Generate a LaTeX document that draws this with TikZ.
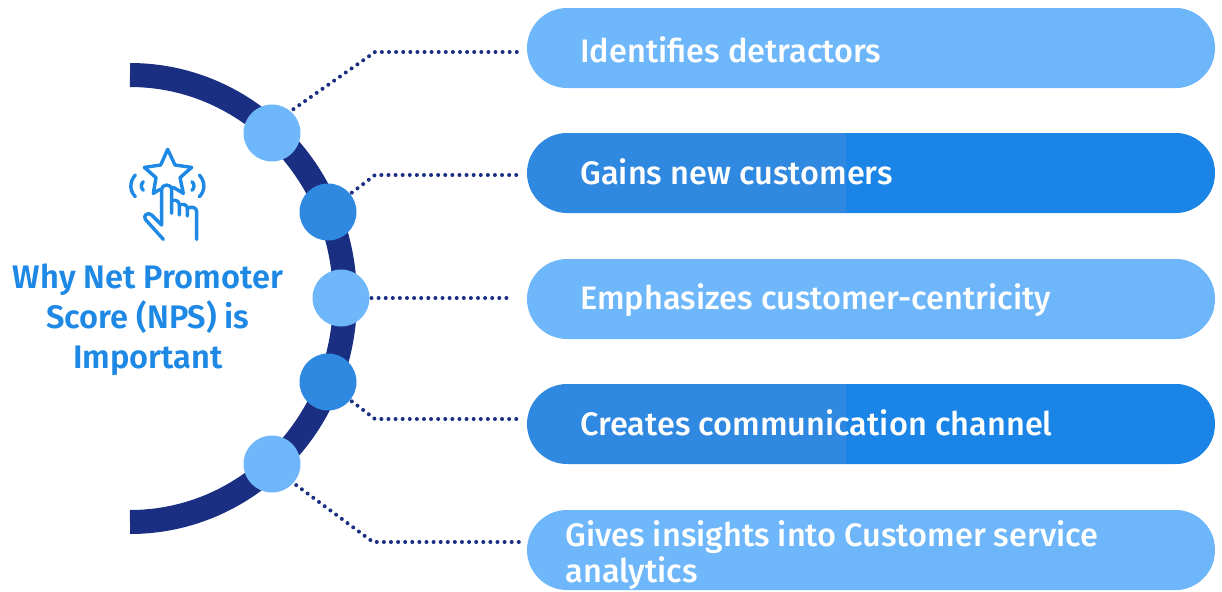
\documentclass[tikz,border=0pt]{standalone}
\usepackage{fontspec}
\setmainfont{Fira Sans Medium}
\newfontfamily\titlefont{Fira Sans SemiBold}
\definecolor{navy}{HTML}{1B2F82}
\definecolor{lightL}{HTML}{6FB7FB}
\definecolor{lightR}{HTML}{6EB6FA}
\definecolor{darkL}{HTML}{3089E0}
\definecolor{darkR}{HTML}{1A85E6}
\definecolor{titleblue}{HTML}{1E88E5}
\tikzset{
  pill/.style n args={2}{rectangle, rounded corners=20pt, minimum width=344pt, minimum height=40pt, inner sep=0pt, outer sep=0pt, fill=#1,
    path picture={\fill[#2,sharp corners] (path picture bounding box.south east) rectangle ([xshift=-184.5pt]path picture bounding box.north east);}},
  lightpill/.style={pill={lightL}{lightR}},
  darkpill/.style={pill={darkL}{darkR}},
  dotc/.style={circle, minimum size=28.5pt, inner sep=0pt, outer sep=0pt},
  pilltext/.style={anchor=base west, text=white, font=\fontsize{16.26}{18}\selectfont, inner sep=0pt},
  dotline/.style={navy, line width=2pt, line cap=round, dash pattern=on 0pt off 3.55pt},
  icon/.style={titleblue, line width=1.7pt, line cap=round, line join=round},
  title/.style={text=titleblue, font=\titlefont\fontsize{16.3}{20}\selectfont, align=center, inner sep=0pt}
}
\begin{document}
\begin{tikzpicture}[x=0.5pt,y=-0.5pt]
\useasboundingbox (0,0) rectangle (1222,591);
\draw[navy, line width=12pt] (130,75) arc[start angle=90,end angle=-90,x radius=107.5pt,y radius=111.75pt];

\node[dotc,fill=lightL] (c1) at (272,133) {};
\node[dotc,fill=darkL] (c2) at (328,212) {};
\node[dotc,fill=lightL] (c3) at (341,298) {};
\node[dotc,fill=darkL] (c4) at (328,382) {};
\node[dotc,fill=lightL] (c5) at (272,464) {};

\node[lightpill] (p1) at (871,48) {};
\node[darkpill] (p2) at (871,173) {};
\node[lightpill] (p3) at (871,299) {};
\node[darkpill] (p4) at (871,424) {};
\node[lightpill] (p5) at (871,550) {};

\coordinate (b1) at (375,52);
\coordinate (b2) at (375,175);
\coordinate (b4) at (375,419);
\coordinate (b5) at (373,542);
\coordinate (e1) at (520,52);
\coordinate (e2) at (520,175);
\coordinate (e3) at (513,298);
\coordinate (e4) at (520,419);
\coordinate (e5) at (520,542);
\draw[dotline] (c1.47) ++(2,-3) -- (b1) -- (e1);
\draw[dotline] (c2.40) ++(2,-1) -- (b2) -- (e2);
\draw[dotline] (c3.0) ++(2,0) -- (e3);
\draw[dotline] (c4.-40) ++(2,1) -- (b4) -- (e4);
\draw[dotline] (c5.-42) ++(3,2) -- (b5) -- (e5);

\node[pilltext] (t1) at (580,62) {Identifies detractors};
\node[pilltext] (t2) at (580,184) {Gains new customers};
\node[pilltext] (t3) at (580,309) {Emphasizes customer-centricity};
\node[pilltext] (t4) at (580,435) {Creates communication channel};
\node[pilltext] (t5) at (565,546) {Gives insights into Customer service};
\node[pilltext] (t6) at (565,582) {analytics};

\node[title] (title) at (148,320) {Why Net Promoter\\Score (NPS) is\\Important};

\begin{scope}[shift={(110,130)},x=0.1667pt,y=-0.1667pt]
\draw[icon] (150,178) -- (130,190) -- (138,143) -- (103,112) -- (152,105) -- (173,58) -- (195,105) -- (245,112) -- (210,143) -- (220,190) -- (190,172);
\draw[icon] (155,285) -- (155,180) .. controls (155,160) and (185,160) .. (185,180) -- (185,250);
\draw[icon] (155,285) -- (125,255) .. controls (115,245) and (98,255) .. (106,268) -- (160,328);
\draw[icon] (185,212) .. controls (195,208) and (208,212) .. (208,225) -- (208,255);
\draw[icon] (208,225) .. controls (218,220) and (232,224) .. (232,235) -- (232,258);
\draw[icon] (232,235) .. controls (245,228) and (260,232) .. (260,245) -- (260,328);
\draw[icon] (76,135) .. controls (58,155) and (58,182) .. (76,200);
\draw[icon] (100,155) .. controls (92,163) and (92,173) .. (100,181);
\draw[icon] (268,135) .. controls (286,155) and (286,182) .. (268,200);
\draw[icon] (246,155) .. controls (254,163) and (254,173) .. (246,181);
\end{scope}
\end{tikzpicture}
\end{document}
